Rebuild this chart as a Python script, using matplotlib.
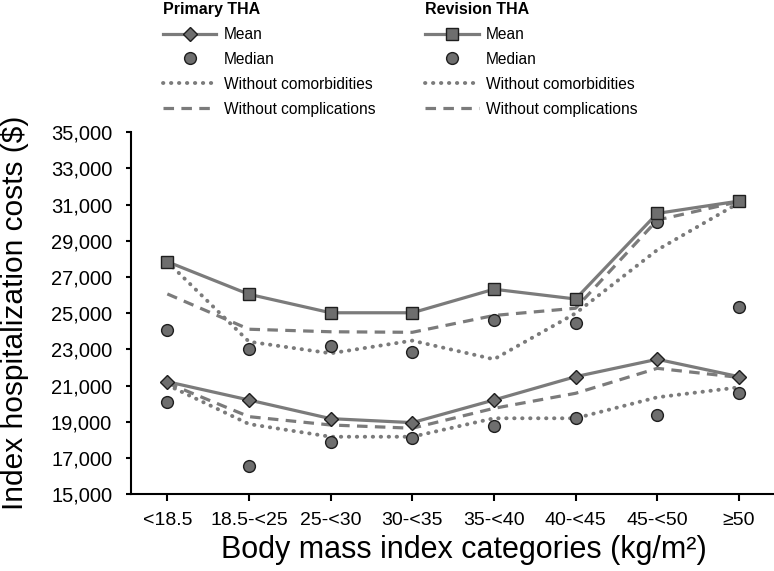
import matplotlib
matplotlib.use('Agg')
import matplotlib.pyplot as plt
from matplotlib.ticker import FuncFormatter

plt.rcParams['font.family'] = ['Liberation Sans', 'DejaVu Sans']

# BMI categories on the x axis
categories = ['<18.5', '18.5-<25', '25-<30', '30-<35', '35-<40', '40-<45', '45-<50', '≥50']

# Primary THA costs ($)
primary_mean = [21220, 20210, 19180, 18960, 20210, 21500, 22460, 21500]
primary_median = [20080, 16580, 17870, 18130, 18770, 19200, 19380, 20580]
primary_no_comorb = [21040, 18880, 18180, 18180, 19200, 19200, 20360, 20910]
primary_no_compl = [21150, 19290, 18830, 18650, 19750, 20580, 21960, 21460]

# Revision THA costs ($)
revision_mean = [27850, 26050, 25030, 25030, 26330, 25790, 30520, 31200]
revision_median = [24080, 23030, 23210, 22880, 24630, 24450, 30060, 25360]
revision_no_comorb = [27850, 23430, 22790, 23490, 22460, 25000, 28500, 31100]
revision_no_compl = [26070, 24120, 23980, 23950, 24880, 25280, 30150, 31170]

yticks = list(range(15000, 35001, 2000))

line_col = '#7b7b7b'
face_col = '#6e6e6e'
edge_col = '#1e1e1e'
lw = 2.3
dotted = (0, (0.1, 1.95))
dashed = (0, (3.3, 2.3))

fig = plt.figure(figsize=(7.74, 5.71), dpi=100)
ax = fig.add_axes([131 / 774, 76.7 / 571, 643 / 774, 362 / 571])

x = list(range(len(categories)))


def draw_group(mean, median, no_comorb, no_compl, marker, msize):
    l_dot, = ax.plot(x, no_comorb, color=line_col, lw=2.8, linestyle=dotted,
                     dash_capstyle='round', zorder=2)
    l_dash, = ax.plot(x, no_compl, color=line_col, lw=lw, linestyle=dashed,
                      zorder=2)
    l_med, = ax.plot(x, median, linestyle='none', marker='o', ms=8.5,
                     markerfacecolor=face_col, markeredgecolor=edge_col,
                     markeredgewidth=1.0, zorder=3)
    l_mean, = ax.plot(x, mean, color=line_col, lw=lw, marker=marker, ms=msize,
                      markerfacecolor=face_col, markeredgecolor=edge_col,
                      markeredgewidth=1.0, zorder=4)
    return [l_mean, l_med, l_dot, l_dash]


prim = draw_group(primary_mean, primary_median, primary_no_comorb,
                  primary_no_compl, 'D', 7.5)
rev = draw_group(revision_mean, revision_median, revision_no_comorb,
                 revision_no_compl, 's', 8.5)

ax.set_xlim(-0.445, 7.43)
ax.set_ylim(15000, 35000)
ax.set_xticks(x)
ax.set_xticklabels(categories)
ax.set_yticks(yticks)
ax.yaxis.set_major_formatter(FuncFormatter(lambda v, p: f'{v:,.0f}'))

for side in ['top', 'right']:
    ax.spines[side].set_visible(False)
for side in ['left', 'bottom']:
    ax.spines[side].set_linewidth(1.5)
ax.tick_params(axis='y', length=3.5, width=1.5, pad=10, labelsize=14.5)
ax.tick_params(axis='x', length=5, width=1.5, pad=8, labelsize=14)

ax.set_xlabel('Body mass index categories (kg/m²)', fontsize=22)
ax.xaxis.set_label_coords(0.518, -0.1124)
ax.set_ylabel('Index hospitalization costs ($)', fontsize=21.5)
ax.yaxis.set_label_coords(-0.158, 0.5)

labels = ['Mean', 'Median', 'Without comorbidities', 'Without complications']
leg_kw = dict(loc='upper left', frameon=False, fontsize=11.2, borderpad=0,
              borderaxespad=0, handlelength=3.45, handletextpad=0.48,
              labelspacing=0.64, numpoints=1, alignment='left',
              title_fontproperties={'weight': 'bold', 'size': 11.5})
fig.legend(prim, labels, title='Primary THA',
           bbox_to_anchor=(162.7 / 774, 1 - 2 / 571), **leg_kw)
fig.legend(rev, labels, title='Revision THA',
           bbox_to_anchor=(425 / 774, 1 - 2 / 571), **leg_kw)

fig.savefig('out.png', dpi=100)
